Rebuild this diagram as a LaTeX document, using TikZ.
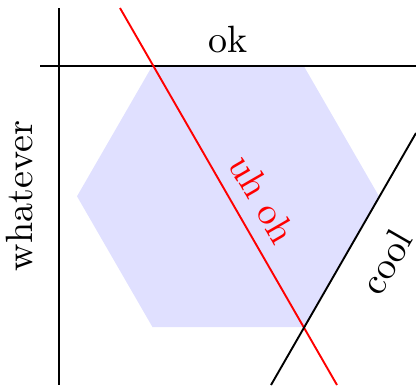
\documentclass[tikz,border=0pt]{standalone}
\begin{document}
\begin{tikzpicture}[x=0.263pt,y=-0.263pt,
  axis/.style={draw=black,line width=0.5pt},
  hexfill/.style={fill=blue!12,draw=none}]
\useasboundingbox (0,0) rectangle (416,385);
\begin{scope}
\clip (0,0) rectangle (416,385);
\fill[hexfill] (152.5,65.5) -- (303.5,65.5) -- (379,196.3) -- (303.5,327.1) -- (152.5,327.1) -- (77,196.3) -- cycle;
\coordinate (vt) at (59,8);
\coordinate (vb) at (59,385);
\coordinate (hl) at (40,66);
\coordinate (hr) at (416,66);
\coordinate (rt) at (120,8);
\coordinate (rb) at (337,385);
\coordinate (cb) at (271,385);
\coordinate (ct) at (416,133);
\draw[axis] (vt) -- (vb);
\draw[axis] (hl) -- (hr);
\draw[red,line width=0.5pt] (rt) -- (rb);
\draw[axis] (cb) -- (ct);
\end{scope}
\node[above] (ok) at (228,66) {ok};
\node[rotate=90] (whatever) at (20,196) {whatever};
\node[rotate=-60,text=red] (uhoh) at (263,199) {uh oh};
\node[rotate=60] (cool) at (386,262) {cool};
\end{tikzpicture}
\end{document}
